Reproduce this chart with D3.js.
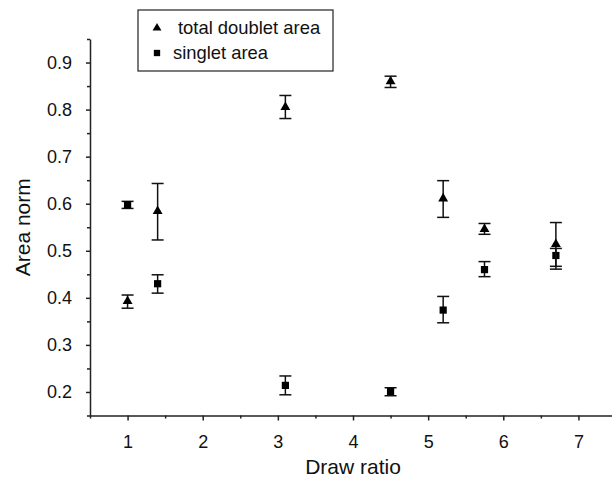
<!DOCTYPE html>
<html>
<head>
<meta charset="utf-8">
<script src="https://cdn.jsdelivr.net/npm/d3@7"></script>
<style>
  body { margin: 0; background: #fff; }
  svg { font-family: "Liberation Sans", Arial, sans-serif; }
</style>
</head>
<body>
<div id="chart"></div>
<script>
// draw ratio for each sample
var drawRatio = [1, 1.4, 3.1, 4.5, 5.2, 5.75, 6.7];

// total doublet area (triangles)
var doubletVal = [0.393, 0.584, 0.805, 0.860, 0.611, 0.546, 0.514];
var doubletLo  = [0.378, 0.523, 0.781, 0.847, 0.571, 0.535, 0.467];
var doubletHi  = [0.406, 0.643, 0.830, 0.871, 0.649, 0.558, 0.560];

// singlet area (squares)
var singletVal = [0.598, 0.430, 0.214, 0.201, 0.374, 0.460, 0.490];
var singletLo  = [0.590, 0.410, 0.194, 0.192, 0.347, 0.445, 0.461];
var singletHi  = [0.605, 0.449, 0.234, 0.209, 0.403, 0.477, 0.505];

var xTicks = [1, 2, 3, 4, 5, 6, 7];
var yTicks = [0.2, 0.3, 0.4, 0.5, 0.6, 0.7, 0.8, 0.9];
var legendLabels = ["total doublet area", "singlet area"];

var width = 612, height = 478;

var svg = d3.select("#chart").append("svg")
    .attr("width", width)
    .attr("height", height);

var x = d3.scaleLinear().domain([0.5, 7.5]).range([90, 616]);
var y = d3.scaleLinear().domain([0.15, 0.95]).range([415.5, 39]);

// minor ticks
var xMinor = d3.range(0.5, 7.51, 0.5).filter(function (d) { return xTicks.indexOf(d) < 0; });
var yMinor = d3.range(0.15, 0.951, 0.1).map(function (d) { return +d.toFixed(2); });

var xAxisG = svg.append("g").attr("transform", "translate(0," + y(0.15) + ")");
xAxisG.call(d3.axisBottom(x).tickValues(xTicks).tickSize(5).tickSizeOuter(0).tickPadding(14.5)
    .tickFormat(d3.format("d")));
xAxisG.append("g").call(d3.axisBottom(x).tickValues(xMinor).tickSize(3).tickSizeOuter(0).tickFormat(""))
    .select(".domain").remove();

var yAxisG = svg.append("g").attr("transform", "translate(" + x(0.5) + ",0)");
yAxisG.call(d3.axisLeft(y).tickValues(yTicks).tickSize(4).tickSizeOuter(0).tickPadding(14)
    .tickFormat(d3.format(".1f")));
yAxisG.append("g").call(d3.axisLeft(y).tickValues(yMinor).tickSize(3).tickSizeOuter(0).tickFormat(""))
    .select(".domain").remove();

svg.selectAll(".domain, .tick line").attr("stroke", "#222").attr("stroke-width", 1.5);
svg.selectAll(".tick text").attr("font-size", 18).attr("fill", "#111")
    .attr("font-family", "'Liberation Sans', Arial, sans-serif");

// axis titles
svg.append("text")
    .attr("x", x(4)).attr("y", 474)
    .attr("text-anchor", "middle")
    .attr("font-size", 21)
    .attr("fill", "#111")
    .text("Draw ratio");

svg.append("text")
    .attr("transform", "translate(30," + ((y(0.15) + y(0.95)) / 2) + ") rotate(-90)")
    .attr("text-anchor", "middle")
    .attr("font-size", 21)
    .attr("fill", "#111")
    .text("Area norm");

// series
var doublet = drawRatio.map(function (d, i) {
    return { x: d, v: doubletVal[i], lo: doubletLo[i], hi: doubletHi[i] };
});
var singlet = drawRatio.map(function (d, i) {
    return { x: d, v: singletVal[i], lo: singletLo[i], hi: singletHi[i] };
});

var triangle = d3.symbol().type(d3.symbolTriangle).size(42);
var square = d3.symbol().type(d3.symbolSquare).size(52);

function drawSeries(data, sym, cls) {
    var g = svg.append("g").attr("class", cls);
    var capW = 6;
    var pts = g.selectAll("g").data(data).enter().append("g");
    pts.append("line")
        .attr("x1", function (d) { return x(d.x); })
        .attr("x2", function (d) { return x(d.x); })
        .attr("y1", function (d) { return y(d.lo); })
        .attr("y2", function (d) { return y(d.hi); });
    pts.append("line")
        .attr("x1", function (d) { return x(d.x) - capW; })
        .attr("x2", function (d) { return x(d.x) + capW; })
        .attr("y1", function (d) { return y(d.hi); })
        .attr("y2", function (d) { return y(d.hi); });
    pts.append("line")
        .attr("x1", function (d) { return x(d.x) - capW; })
        .attr("x2", function (d) { return x(d.x) + capW; })
        .attr("y1", function (d) { return y(d.lo); })
        .attr("y2", function (d) { return y(d.lo); });
    pts.selectAll("line").attr("stroke", "#111").attr("stroke-width", 1.5);
    pts.append("path")
        .attr("d", sym)
        .attr("transform", function (d) { return "translate(" + x(d.x) + "," + y(d.v) + ")"; })
        .attr("fill", "#000");
}

drawSeries(singlet, square, "singlet");
drawSeries(doublet, triangle, "doublet");

// legend
var leg = svg.append("g").attr("class", "legend");
leg.append("rect")
    .attr("x", 138).attr("y", 10)
    .attr("width", 195).attr("height", 61)
    .attr("fill", "#fff")
    .attr("stroke", "#222")
    .attr("stroke-width", 1.2);
var legSyms = [triangle, square];
var legText = [178, 173];
legendLabels.forEach(function (lab, i) {
    leg.append("path")
        .attr("d", legSyms[i].size(i === 0 ? 34 : 40)())
        .attr("transform", "translate(157," + (28 + i * 25) + ")")
        .attr("fill", "#000");
    leg.append("text")
        .attr("x", legText[i]).attr("y", 34 + i * 25)
        .attr("font-size", 18.4)
        .attr("fill", "#111")
        .text(lab);
});
</script>
</body>
</html>
